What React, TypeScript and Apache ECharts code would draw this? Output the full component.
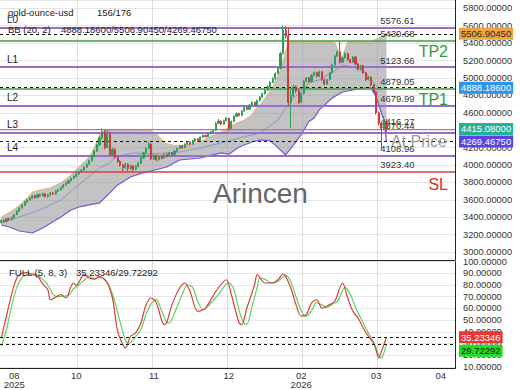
import React, { useEffect, useRef } from "react";
import * as echarts from "echarts";

const FONT = "'Liberation Sans', Arial, sans-serif";

// ---------- texts ----------
const SYMBOL = "gold-ounce-usd";
const COUNTER = "156/176";
const BB_LABEL = "BB (20, 2)";
const STOCH_LABEL = "FULL (5, 8, 3)";
const WATERMARK = "Arincen";

// ---------- x axis ----------
const SLOT_COUNT = 176;
const slotNames = Array.from({ length: SLOT_COUNT }, (_, i) => String(i));
const xTickIndex = [5, 29, 59, 88, 116, 145, 170];
const xTickText = ["08\n2025", "10", "11", "12", "02\n2026", "03", "04"];
const xGridIndex = [30, 59, 88, 117, 146];
const levelLabelSlot = 145;

// ---------- candles ----------
const candleOpen = [
  3340, 3365, 3350, 3385, 3372, 3400, 3432, 3470, 3508, 3540,
  3575, 3600, 3622, 3646, 3628, 3660, 3648, 3672, 3640, 3656,
  3680, 3668, 3700, 3716, 3742, 3770, 3792, 3820, 3846, 3870,
  3896, 3920, 3942, 3975, 4010, 4050, 4100, 4160, 4230, 4310,
  4390, 4200, 4360, 4120, 4180, 4090, 4040, 4000, 3970, 4010,
  3960, 3990, 3950, 3985, 4020, 4080, 4140, 4190, 4240, 4070,
  4110, 4060, 4100, 4080, 4120, 4100, 4140, 4120, 4160, 4190,
  4220, 4200, 4240, 4262, 4240, 4280, 4300, 4280, 4320, 4340,
  4328, 4360, 4380, 4400, 4480, 4505, 4470, 4510, 4535, 4420,
  4500, 4560, 4590, 4570, 4620, 4660, 4640, 4690, 4720, 4690,
  4740, 4780, 4820, 4860, 4900, 4950, 4990, 5050, 5110, 5280,
  5550, 5480, 4720, 4800, 4900, 4850, 4720, 4820, 4960, 5000,
  4960, 5030, 5060, 5020, 5070, 4980, 4930, 4980, 5060, 5150,
  5250, 5300, 5180, 5230, 5280, 5210, 5180, 5240, 5160, 5100,
  5140, 5060, 4980, 5010, 4920, 4840, 4600, 4480, 4420, 4500,
];
const candleClose = [
  3365, 3350, 3385, 3372, 3400, 3432, 3470, 3508, 3540, 3575,
  3600, 3622, 3646, 3628, 3660, 3648, 3672, 3640, 3656, 3680,
  3668, 3700, 3716, 3742, 3770, 3792, 3820, 3846, 3870, 3896,
  3920, 3942, 3975, 4010, 4050, 4100, 4160, 4230, 4310, 4385,
  4200, 4360, 4120, 4180, 4090, 4040, 4000, 3970, 4010, 3960,
  3990, 3950, 3985, 4020, 4080, 4140, 4190, 4240, 4070, 4110,
  4060, 4100, 4080, 4120, 4100, 4140, 4120, 4160, 4190, 4220,
  4200, 4240, 4262, 4240, 4280, 4300, 4280, 4320, 4340, 4328,
  4360, 4380, 4400, 4480, 4505, 4470, 4510, 4540, 4420, 4500,
  4560, 4590, 4570, 4620, 4660, 4640, 4690, 4720, 4690, 4740,
  4780, 4820, 4860, 4900, 4950, 4990, 5050, 5110, 5280, 5550,
  5480, 4720, 4800, 4900, 4850, 4720, 4820, 4960, 5000, 4960,
  5030, 5060, 5020, 5070, 4980, 4930, 4980, 5060, 5150, 5250,
  5300, 5180, 5230, 5280, 5210, 5180, 5240, 5160, 5100, 5140,
  5060, 4980, 5010, 4920, 4840, 4600, 4480, 4420, 4500, 4415.08,
];
const candleLow = [
  3322, 3338, 3345, 3360, 3365, 3392, 3425, 3462, 3500, 3530,
  3566, 3590, 3612, 3615, 3620, 3636, 3640, 3630, 3628, 3648,
  3655, 3660, 3692, 3708, 3735, 3762, 3785, 3812, 3838, 3862,
  3888, 3910, 3935, 3968, 4002, 4042, 4090, 4150, 4222, 4300,
  4180, 4190, 4100, 4105, 4075, 4025, 3985, 3930, 3955, 3932,
  3945, 3925, 3940, 3975, 4010, 4070, 4130, 4180, 4055, 4060,
  4045, 4050, 4065, 4070, 4085, 4092, 4108, 4112, 4150, 4182,
  4188, 4192, 4232, 4228, 4232, 4270, 4268, 4272, 4310, 4315,
  4320, 4350, 4370, 4392, 4470, 4458, 4462, 4500, 4390, 4410,
  4492, 4550, 4558, 4562, 4610, 4628, 4632, 4680, 4678, 4682,
  4730, 4770, 4810, 4850, 4890, 4940, 4980, 5040, 5100, 5270,
  5450, 4680, 4420, 4780, 4830, 4700, 4710, 4810, 4950, 4945,
  4950, 5020, 5005, 5010, 4965, 4915, 4920, 4970, 5050, 5140,
  5240, 5165, 5170, 5220, 5195, 5165, 5170, 5145, 5085, 5090,
  5045, 4965, 4970, 4905, 4825, 4580, 4460, 4180, 4400, 4380,
];
const candleHigh = [
  3378, 3380, 3392, 3396, 3410, 3440, 3482, 3515, 3552, 3586,
  3612, 3634, 3658, 3660, 3670, 3672, 3684, 3680, 3668, 3690,
  3692, 3710, 3728, 3752, 3782, 3804, 3832, 3858, 3882, 3908,
  3934, 3955, 3988, 4022, 4064, 4115, 4175, 4246, 4330, 4420,
  4412, 4400, 4385, 4200, 4195, 4105, 4055, 4015, 4025, 4020,
  4005, 4000, 3998, 4035, 4095, 4152, 4205, 4262, 4250, 4125,
  4120, 4112, 4115, 4132, 4135, 4150, 4152, 4172, 4200, 4232,
  4230, 4250, 4272, 4270, 4290, 4312, 4310, 4330, 4352, 4350,
  4370, 4392, 4412, 4495, 4530, 4512, 4520, 4552, 4545, 4512,
  4572, 4602, 4600, 4632, 4672, 4670, 4700, 4732, 4730, 4752,
  4792, 4832, 4872, 4915, 4965, 5005, 5065, 5125, 5300, 5600,
  5595, 5580, 4860, 4920, 4915, 4870, 4835, 4975, 5015, 5012,
  5042, 5075, 5072, 5085, 5080, 4992, 4992, 5072, 5165, 5265,
  5320, 5420, 5245, 5295, 5292, 5222, 5255, 5252, 5172, 5152,
  5150, 5072, 5022, 5020, 4932, 4850, 4615, 4495, 4560, 4530,
];

// ---------- Bollinger bands: [slot, value] ----------
const bbUpper = [
  [0, 3404], [4, 3470], [7, 3542], [10, 3620], [12, 3691], [16, 3720], [19, 3737],
  [23, 3795], [27, 3886], [30, 3978], [34, 4093], [36, 4200], [38, 4346], [40, 4400],
  [45, 4410], [50, 4410], [55, 4405], [58, 4395], [60, 4360], [62, 4290], [64, 4245],
  [67, 4225], [71, 4228], [74, 4245], [77, 4270], [79, 4300], [81, 4330], [84, 4360],
  [86, 4400], [88, 4436], [91, 4480], [94, 4517], [97, 4580], [98, 4632], [101, 4724],
  [105, 4896], [108, 5091], [110, 5300], [111, 5413], [115, 5415], [120, 5415],
  [125, 5412], [129, 5410], [130, 5330], [131, 5264], [132, 5245], [133, 5330],
  [134, 5413], [138, 5415], [143, 5415], [146, 5459], [149, 5506.9045],
];
const bbMid = [
  [0, 3347], [7, 3404], [15, 3485], [23, 3599], [29, 3749], [38, 3967], [42, 4024],
  [44, 4093], [51, 4139], [58, 4127], [69, 4150], [77, 4196], [85, 4254], [92, 4311],
  [100, 4368], [107, 4517], [112, 4747], [116, 4839], [119, 4942], [123, 4977],
  [126, 5034], [128, 5057], [132, 5148], [136, 5126], [141, 5057], [144, 4954],
  [146, 4870], [147, 4875], [149, 4888.186],
];
const bbLower = [
  [0, 3312], [3, 3289], [7, 3243], [12, 3220], [16, 3278], [20, 3350], [23, 3404],
  [27, 3484], [30, 3519], [34, 3542], [38, 3565], [42, 3680], [45, 3772], [50, 3863],
  [54, 3905], [58, 3932], [64, 3978], [69, 4058], [77, 4081], [85, 4139], [88, 4125],
  [92, 4208], [97, 4265], [100, 4288], [104, 4280], [107, 4200], [110, 4116],
  [113, 4230], [116, 4350], [119, 4500], [121, 4540], [123, 4633], [128, 4770],
  [132, 4839], [136, 4862], [141, 4885], [143, 4885], [145, 4782], [147, 4600],
  [148, 4518], [149, 4269.4675],
];

// ---------- levels ----------
const levelNames = ["L0", "L1", "L2", "L3", "L4"];
const levelValues = [5576.61, 5123.66, 4679.99, 4370.44, 4108.96];
const targetNames = ["TP2", "TP1"];
const targetValues = [5430.68, 4879.05];
const stopName = "SL";
const stopValue = 3923.4;
const atPriceName = "At Price";
const atPriceValue = 4416.27;

// ---------- stochastic: [slot, value] ----------
const stochK = [
  [0, 34.6], [2, 53.5], [4, 72], [6, 86], [8, 90], [10, 90.5], [12, 89], [14, 87.7],
  [16, 81], [18, 76], [19, 67.4], [21, 69.5], [23, 71.7], [25, 68.9], [27, 79],
  [28, 81.7], [29, 79.5], [32, 88.8], [34, 86], [36, 85], [38, 87.4], [41, 81.7],
  [43, 68.9], [44, 54.6], [45, 40.4], [47, 29], [48, 26.2], [50, 36.2], [52, 39],
  [54, 47.5], [56, 63.2], [58, 68.9], [60, 64.6], [63, 46.1], [64, 48], [66, 63.2],
  [69, 77.4], [71, 81.7], [73, 74.6], [76, 57.5], [79, 60.3], [83, 74.6], [87, 84.5],
  [89, 71.7], [92, 47.5], [93, 46.1], [95, 60.3], [98, 80.3], [99, 88.8], [102, 81.7],
  [105, 81.7], [107, 84.5], [109, 89.4], [110, 87.4], [112, 77.4], [114, 63.2],
  [116, 53.5], [118, 54.6], [120, 64.6], [122, 67.4], [123, 64], [124, 60.3],
  [127, 63.2], [129, 66.1], [132, 81.7], [134, 68.9], [136, 57.5], [138, 51.8],
  [140, 43.3], [142, 36.2], [144, 30.4], [145, 24], [146, 17.5], [147, 23], [148, 29],
  [149, 35.23346],
];
const stochD = [
  [0, 27.9], [2, 41.8], [4, 62], [6, 78], [8, 86], [10, 89], [12, 89.5], [14, 88],
  [16, 85], [18, 80], [20, 72], [22, 70], [24, 70.5], [26, 71], [28, 77], [30, 80],
  [32, 84], [34, 87], [36, 85.5], [38, 86.5], [40, 85], [42, 78], [44, 65], [46, 48],
  [48, 33], [49, 30.4], [50, 31], [52, 36], [54, 42], [56, 55], [58, 64], [60, 67.5],
  [62, 58], [64, 48], [65, 47.5], [67, 56], [70, 72], [72, 80], [74, 78], [76, 66],
  [78, 59], [80, 62], [84, 72], [88, 82], [90, 76], [92, 58], [94, 47], [95, 46.5],
  [97, 62], [99, 78], [100, 86], [102, 85], [104, 82], [106, 82], [108, 85],
  [110, 88.5], [112, 83], [114, 70], [116, 58], [118, 53], [120, 58], [122, 65],
  [124, 63], [126, 61], [128, 63.5], [130, 66], [133, 78], [135, 72], [137, 61],
  [139, 52], [141, 43], [143, 35], [145, 26], [146, 20], [147, 17.6], [148, 22],
  [149, 29.72292],
];

// ---------- colours ----------
const C_UP = "#2f9e5a";
const C_DOWN = "#d23a3a";
const C_PURPLE = "#9a6ccf";
const C_GREEN = "#3f9f3f";
const C_RED = "#d84040";
const C_GRID = "#e6e6e6";
const C_NONE = "rgba(0,0,0,0)";

function buildOption(): any {
  const last = (a: number[][]) => a[a.length - 1][1];
  const upLast = last(bbUpper);
  const midLast = last(bbMid);
  const lowLast = last(bbLower);
  const kLast = last(stochK);
  const dLast = last(stochD);
  const closeLast = candleClose[candleClose.length - 1];

  const candles = candleOpen.map((o, i) => [o, candleClose[i], candleLow[i], candleHigh[i]]);

  const tag = (bg: string, fg: string, v: number, extra: any = {}) => ({
    show: true,
    position: "end",
    distance: 4,
    formatter: v.toFixed(5),
    backgroundColor: bg,
    color: fg,
    padding: [1, 2, 1, 2],
    fontSize: 9.5,
    fontFamily: FONT,
    ...extra,
  });
  const dashed = { color: "#111", type: [3, 3], width: 1 };
  const hidden = { color: C_NONE, width: 1 };

  const mainMarks: any[] = [];
  levelValues.forEach((v, k) =>
    mainMarks.push({
      yAxis: v,
      lineStyle: { color: C_PURPLE, width: 2, type: "solid" },
      label: { show: true, position: "insideStartTop", formatter: levelNames[k], color: "#222", fontSize: 10, fontFamily: FONT, distance: [7, 3] },
    })
  );
  targetValues.forEach((v, k) =>
    mainMarks.push({
      yAxis: v,
      lineStyle: { color: C_GREEN, width: 1.5, type: "solid" },
      label: { show: true, position: "insideEndBottom", formatter: targetNames[k], color: "#2f9a3a", fontSize: 16, fontFamily: FONT, distance: [7, 3] },
    })
  );
  mainMarks.push({
    yAxis: stopValue,
    lineStyle: { color: C_RED, width: 1.5, type: "solid" },
    label: { show: true, position: "insideEndBottom", formatter: stopName, color: "#d62e2e", fontSize: 16, fontFamily: FONT, distance: [7, 5] },
  });
  mainMarks.push({
    yAxis: atPriceValue,
    lineStyle: { color: "#8a8a8a", width: 1, type: "solid" },
    label: { show: true, position: "insideEndBottom", formatter: atPriceName, color: "#9a9a9a", fontSize: 16, fontFamily: FONT, distance: [8, 5] },
  });
  // value labels near the last candle
  const allLevels = [...levelValues, ...targetValues, stopValue, atPriceValue];
  allLevels.forEach((v) =>
    mainMarks.push([
      {
        coord: [slotNames[levelLabelSlot], v],
        lineStyle: hidden,
        label: { show: true, position: "insideStartTop", formatter: v.toFixed(2), color: "#333", fontSize: 9.5, fontFamily: FONT, distance: [4, 2] },
      },
      { coord: [slotNames[SLOT_COUNT - 1], v] },
    ])
  );
  // Bollinger latest values and last close tags
  mainMarks.push({ yAxis: upLast, lineStyle: dashed, label: tag("#eda43c", "#2a2a2a", upLast) });
  mainMarks.push({ yAxis: midLast, lineStyle: dashed, label: tag("#2f95e8", "#ffffff", midLast) });
  mainMarks.push({ yAxis: lowLast, lineStyle: dashed, label: tag("#5a45e0", "#ffffff", lowLast) });
  mainMarks.push({ yAxis: closeLast, lineStyle: hidden, label: tag("#27b09a", "#ffffff", closeLast) });

  const stochMarks: any[] = [
    { yAxis: kLast, lineStyle: dashed, label: tag("#ee3333", "#ffffff", kLast) },
    { yAxis: dLast, lineStyle: dashed, label: tag("#22dd22", "#1a1a1a", dLast, { offset: [0, 7] }) },
  ];

  const xAxisCommon = {
    type: "category",
    data: slotNames,
    boundaryGap: true,
    axisTick: { show: false },
    axisLine: { show: true, lineStyle: { color: "#222", width: 1 } },
    splitLine: {
      show: true,
      interval: (idx: number) => xGridIndex.includes(idx),
      lineStyle: { color: "#dcdcdc", width: 1 },
    },
  };

  const yLabel = {
    formatter: (v: number) => v.toFixed(5),
    color: "#333",
    fontSize: 9.3,
    fontFamily: FONT,
    margin: 8,
  };

  return {
    animation: false,
    backgroundColor: "#ffffff",
    textStyle: { fontFamily: FONT },
    grid: [
      { left: 0, top: 0, width: 455, height: 260, containLabel: false, outerBoundsMode: "none" },
      { left: 0, top: 261.6, width: 455, height: 106.7, containLabel: false, outerBoundsMode: "none" },
    ],
    xAxis: [
      { ...xAxisCommon, gridIndex: 0, axisLabel: { show: false } },
      {
        ...xAxisCommon,
        gridIndex: 1,
        axisLabel: {
          show: true,
          interval: (idx: number) => xTickIndex.includes(idx),
          formatter: (_v: string, idx: number) => {
            const k = xTickIndex.indexOf(idx);
            return k >= 0 ? xTickText[k] : "";
          },
          color: "#333",
          fontSize: 9.5,
          lineHeight: 9,
          margin: 3,
          fontFamily: FONT,
        },
      },
    ],
    yAxis: [
      {
        type: "value",
        gridIndex: 0,
        position: "right",
        min: 2910,
        max: 5895,
        splitNumber: 15,
        axisLine: { show: true, lineStyle: { color: "#222", width: 1 } },
        axisTick: { show: false },
        axisLabel: { ...yLabel, showMinLabel: false, showMaxLabel: false },
        splitLine: { show: true, lineStyle: { color: C_GRID, width: 1 } },
      },
      {
        type: "value",
        gridIndex: 1,
        position: "right",
        min: 8.8,
        max: 100,
        splitNumber: 9,
        axisLine: { show: true, lineStyle: { color: "#222", width: 1 } },
        axisTick: { show: false },
        axisLabel: { ...yLabel, showMinLabel: false },
        splitLine: { show: true, lineStyle: { color: C_GRID, width: 1 } },
      },
    ],
    series: [
      {
        type: "custom",
        name: "bbFill",
        xAxisIndex: 0,
        yAxisIndex: 0,
        silent: true,
        z: 1,
        data: [[0, bbUpper[0][1]]],
        renderItem: (_params: any, api: any) => {
          const top = bbUpper.map((p) => api.coord([p[0], p[1]]));
          const bottom = bbLower.slice().reverse().map((p) => api.coord([p[0], p[1]]));
          return {
            type: "polygon",
            shape: { points: top.concat(bottom) },
            style: { fill: "rgba(145,145,145,0.55)", stroke: "none" },
          };
        },
      },
      {
        type: "line",
        name: "bbUpper",
        xAxisIndex: 0,
        yAxisIndex: 0,
        data: bbUpper,
        symbol: "none",
        z: 2,
        lineStyle: { color: "#e3b46c", width: 1 },
      },
      {
        type: "line",
        name: "bbLower",
        xAxisIndex: 0,
        yAxisIndex: 0,
        data: bbLower,
        symbol: "none",
        z: 2,
        lineStyle: { color: "#6d5ad6", width: 1.2 },
      },
      {
        type: "line",
        name: "bbMid",
        xAxisIndex: 0,
        yAxisIndex: 0,
        data: bbMid,
        symbol: "none",
        z: 3,
        lineStyle: { color: "#7f9fc0", width: 1 },
        markLine: { silent: true, symbol: ["none", "none"], precision: 5, data: mainMarks },
      },
      {
        type: "candlestick",
        name: SYMBOL,
        xAxisIndex: 0,
        yAxisIndex: 0,
        data: candles,
        barWidth: 1.6,
        z: 5,
        itemStyle: { color: C_UP, color0: C_DOWN, borderColor: C_UP, borderColor0: C_DOWN, borderWidth: 1 },
      },
      {
        type: "line",
        name: "%D",
        xAxisIndex: 1,
        yAxisIndex: 1,
        data: stochD,
        symbol: "none",
        smooth: 0.3,
        lineStyle: { color: "#5fd35f", width: 1.2 },
      },
      {
        type: "line",
        name: "%K",
        xAxisIndex: 1,
        yAxisIndex: 1,
        data: stochK,
        symbol: "none",
        smooth: 0.3,
        lineStyle: { color: "#d9413a", width: 1.2 },
        markLine: { silent: true, symbol: ["none", "none"], precision: 5, data: stochMarks },
      },
    ],
    graphic: [
      { type: "text", x: 8, y: 12, z: 100, silent: true, style: { text: SYMBOL, fontSize: 9.5, fontFamily: FONT, fill: "#222", verticalAlign: "middle" } },
      { type: "text", x: 97, y: 12, z: 100, silent: true, style: { text: COUNTER, fontSize: 9.5, fontFamily: FONT, fill: "#222", verticalAlign: "middle" } },
      { type: "text", x: 8, y: 29, z: 100, silent: true, style: { text: BB_LABEL, fontSize: 9.5, fontFamily: FONT, fill: "#222", verticalAlign: "middle" } },
      {
        type: "text", x: 61, y: 29, z: 100, silent: true,
        style: { text: `${midLast.toFixed(5)}/${upLast.toFixed(5)}/${lowLast.toFixed(5)}`, fontSize: 9.5, fontFamily: FONT, fill: "#222", verticalAlign: "middle" },
      },
      { type: "text", x: 9, y: 272, z: 100, silent: true, style: { text: STOCH_LABEL, fontSize: 9.5, fontFamily: FONT, fill: "#222", verticalAlign: "middle" } },
      {
        type: "text", x: 76, y: 272, z: 100, silent: true,
        style: { text: `${kLast.toFixed(5)}/${dLast.toFixed(5)}`, fontSize: 9.5, fontFamily: FONT, fill: "#222", verticalAlign: "middle" },
      },
      { type: "text", x: 213, y: 193, z: 100, silent: true, style: { text: WATERMARK, fontSize: 28, fontFamily: FONT, fill: "#666", verticalAlign: "middle" } },
    ],
  };
}

export default function App() {
  const ref = useRef<HTMLDivElement>(null);
  useEffect(() => {
    if (!ref.current) return;
    const chart = echarts.init(ref.current, null, { renderer: "svg" });
    chart.setOption(buildOption());
    return () => chart.dispose();
  }, []);
  return (
    <div
      ref={ref}
      style={{ position: "fixed", left: 0, top: 0, width: 520, height: 390, background: "#fff" }}
    />
  );
}
